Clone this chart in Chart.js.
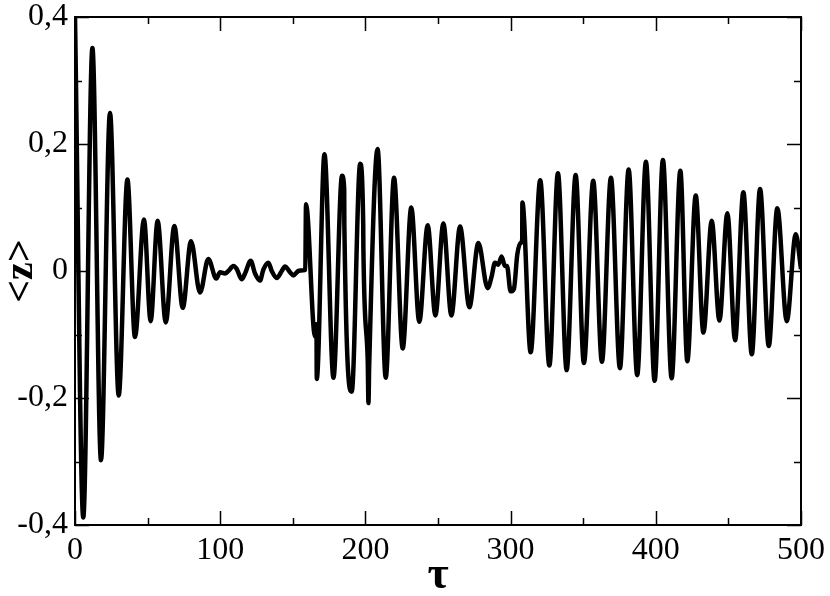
<!DOCTYPE html>
<html>
<head>
<meta charset="utf-8">
<script src="https://cdn.jsdelivr.net/npm/chart.js@4/dist/chart.umd.min.js"></script>
<style>
  body { margin: 0; background: #fff; }
  canvas { display: block; }
</style>
</head>
<body>
<canvas id="zChart" width="830" height="596"></canvas>
<script>
// time values (tau) and <z>, turning points plus the small jumps
const tauValues = [
    0, 5.7, 12.0, 17.9, 24.1, 30.1, 36.1, 41.3, 47.5, 52.1,
    56.9, 62.5, 68.4, 74.2, 79.9, 86.1, 91.8, 97.3, 99.9, 103.3,
    105.6, 109.1, 111.4, 114.8, 117.1, 121.0, 124.0, 127.4, 129.7, 133.2,
    135.5, 138.9, 142.4, 144.6, 148.1, 150.4, 153.8, 157.3, 158.6, 159.1,
    165.3, 166.3, 166.5, 171.8, 178.0, 183.9, 185.4, 185.5, 190.6, 196.4,
    198.5, 198.6, 201.6, 202.1, 202.6, 208.4, 214.0, 219.7, 225.7, 231.6,
    237.1, 242.9, 248.2, 253.7, 259.2, 265.2, 271.6, 277.8, 284.2, 287.0,
    289.2, 291.5, 293.8, 296.1, 297.5, 300.0, 302.3, 304.6, 306.9, 308.0,
    308.1, 313.8, 320.4, 326.7, 332.6, 338.6, 344.8, 350.5, 356.9, 362.9,
    369.1, 375.3, 381.3, 387.2, 393.2, 399.2, 404.9, 410.9, 416.9, 421.7,
    427.5, 432.8, 438.5, 443.8, 449.3, 454.6, 460.3, 466.1, 471.8, 477.8,
    483.7, 490.2, 496.4, 500
];
const zValues = [
    0.40, -0.388, 0.351, -0.298, 0.249, -0.196, 0.144, -0.104, 0.081, -0.079,
    0.079, -0.081, 0.071, -0.058, 0.047, -0.034, 0.019, -0.012, -0.002, -0.004,
    0.000, 0.008, 0.003, -0.013, -0.004, 0.016, -0.004, -0.015, 0.002, 0.013,
    0.000, -0.011, 0.000, 0.007, -0.002, -0.007, 0.000, 0.001, 0.002, 0.105,
    -0.103, -0.084, -0.170, 0.184, -0.168, 0.150, 0.129, 0.073, -0.190, 0.169,
    0.073, 0.037, -0.140, -0.208, -0.150, 0.192, -0.168, 0.147, -0.122, 0.100,
    -0.080, 0.072, -0.070, 0.075, -0.070, 0.070, -0.057, 0.044, -0.027, -0.008,
    0.013, 0.010, 0.023, 0.008, 0.008, -0.032, -0.028, 0.026, 0.044, 0.050,
    0.108, -0.128, 0.143, -0.149, 0.154, -0.156, 0.151, -0.145, 0.142, -0.143,
    0.147, -0.153, 0.160, -0.164, 0.172, -0.173, 0.175, -0.169, 0.158, -0.142,
    0.119, -0.097, 0.079, -0.078, 0.091, -0.109, 0.124, -0.131, 0.129, -0.118,
    0.099, -0.079, 0.058, 0.003
];

const xMajorTicks = [0, 100, 200, 300, 400, 500];
const xMinorTicks = [50, 150, 250, 350, 450];
const yMajorTicks = [-0.4, -0.2, 0, 0.2, 0.4];
const yMinorTicks = [-0.3, -0.1, 0.1, 0.3];

const serif = "'Liberation Serif', 'DejaVu Serif', serif";

// frame around the plot and the inward ticks on all four sides
const frameTicks = {
    id: 'frameTicks',
    afterDraw(chart) {
        const ctx = chart.ctx;
        const area = chart.chartArea;
        const xs = chart.scales.x;
        const ys = chart.scales.y;
        ctx.save();
        ctx.strokeStyle = '#000';
        ctx.lineWidth = 2;
        ctx.strokeRect(area.left, area.top, area.right - area.left, area.bottom - area.top);
        ctx.lineWidth = 1.5;
        ctx.beginPath();
        const xTick = (v, len) => {
            const px = Math.round(xs.getPixelForValue(v)) + 0.5;
            ctx.moveTo(px, area.bottom); ctx.lineTo(px, area.bottom - len);
            ctx.moveTo(px, area.top); ctx.lineTo(px, area.top + len);
        };
        const yTick = (v, len) => {
            const py = Math.round(ys.getPixelForValue(v)) + 0.5;
            ctx.moveTo(area.left, py); ctx.lineTo(area.left + len, py);
            ctx.moveTo(area.right, py); ctx.lineTo(area.right - len, py);
        };
        xMajorTicks.forEach(v => xTick(v, 14));
        xMinorTicks.forEach(v => xTick(v, 7));
        yMajorTicks.forEach(v => yTick(v, 14));
        yMinorTicks.forEach(v => yTick(v, 7));
        ctx.stroke();
        ctx.restore();
    }
};

const ctx = document.getElementById('zChart').getContext('2d');
new Chart(ctx, {
    type: 'line',
    data: {
        datasets: [{
            label: '<z>',
            data: tauValues.map((t, i) => ({ x: t, y: zValues[i] })),
            borderColor: '#000',
            borderWidth: 4.5,
            pointRadius: 0,
            fill: false,
            cubicInterpolationMode: 'monotone'
        }]
    },
    options: {
        responsive: false,
        animation: false,
        layout: {
            padding: { top: 17, right: 29, left: 0, bottom: 0 }
        },
        plugins: {
            legend: { display: false },
            tooltip: { enabled: false }
        },
        scales: {
            x: {
                type: 'linear',
                min: 0,
                max: 500,
                afterBuildTicks: scale => { scale.ticks = xMajorTicks.map(v => ({ value: v })); },
                afterFit: scale => {
                    scale.height = 71;
                    scale.paddingLeft = 0;
                    scale.paddingRight = 0;
                },
                grid: { display: false, drawTicks: false },
                border: { display: false },
                ticks: {
                    color: '#000',
                    padding: 6,
                    autoSkip: false,
                    maxRotation: 0,
                    font: { family: serif, size: 32 }
                },
                title: {
                    display: true,
                    text: 'τ',
                    color: '#000',
                    font: { family: serif, size: 46, weight: 'bold' },
                    padding: { top: 0, bottom: -8 }
                }
            },
            y: {
                type: 'linear',
                min: -0.4,
                max: 0.4,
                afterBuildTicks: scale => { scale.ticks = yMajorTicks.map(v => ({ value: v })); },
                afterFit: scale => {
                    scale.width = 75;
                    scale.paddingTop = 0;
                    scale.paddingBottom = 0;
                },
                grid: { display: false, drawTicks: false },
                border: { display: false },
                ticks: {
                    color: '#000',
                    padding: 7,
                    autoSkip: false,
                    font: { family: serif, size: 32 },
                    callback: function (value) {
                        const v = Math.round(value * 10) / 10;
                        return String(v).replace('.', ',');
                    }
                },
                title: {
                    display: true,
                    text: '<z>',
                    color: '#000',
                    font: { family: serif, size: 40, weight: 'bold' },
                    padding: { top: -2, bottom: 0 }
                }
            }
        }
    },
    plugins: [frameTicks]
});
</script>
</body>
</html>
